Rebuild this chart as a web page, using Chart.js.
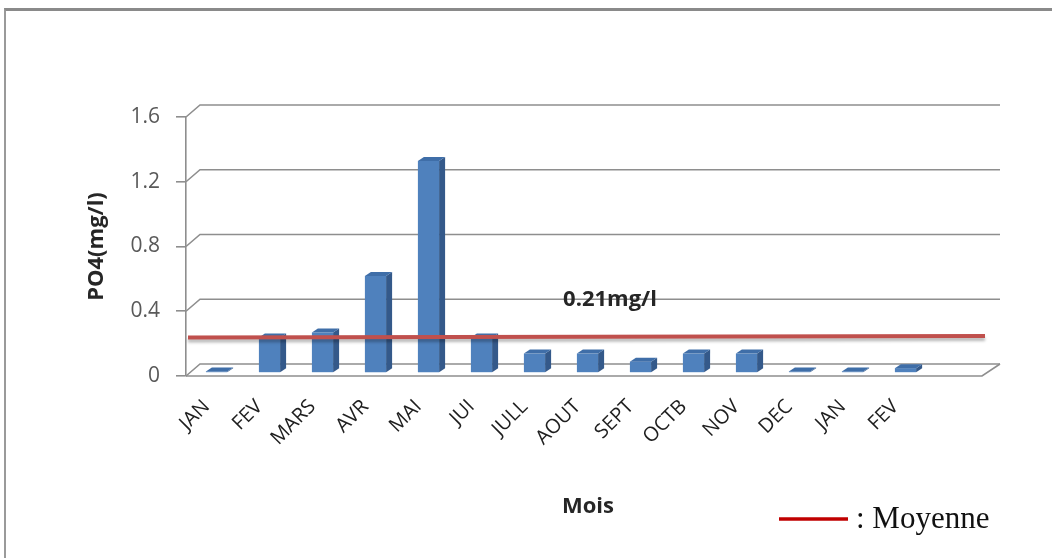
<!DOCTYPE html>
<html>
<head>
<meta charset="utf-8">
<script src="https://cdn.jsdelivr.net/npm/chart.js@4.4.1/dist/chart.umd.min.js"></script>
<style>
  html, body { margin: 0; padding: 0; background: #fff; overflow: hidden; }
  #wrap { position: relative; width: 1052px; height: 558px; }
  #frame { position: absolute; left: 4px; top: 8px; width: 1100px; height: 600px;
           border-top: 3px solid #8a8a8a; border-left: 2px solid #9a9a9a; }
  canvas { position: absolute; left: 0; top: 0; }
</style>
</head>
<body>
<div id="wrap">
  <div id="frame"></div>
  <canvas id="chart" width="1052" height="558"></canvas>
</div>
<script>
// PO4 monthly values (mg/l)
const months = ["JAN","FEV","MARS","AVR","MAI","JUI","JULL","AOUT","SEPT","OCTB","NOV","DEC","JAN","FEV"];
const po4 = [0.01, 0.22, 0.25, 0.60, 1.31, 0.22, 0.12, 0.12, 0.07, 0.12, 0.12, 0.01, 0.01, 0.03];
const yTicks = [0, 0.4, 0.8, 1.2, 1.6];
const moyenne = 0.22;
const moyenneText = "0.21mg/l";

const FONT = "'Open Sans', Lato, sans-serif";
const GRID = "#8e8e8e";
// 3d look: wall depth and bar depth
const WALL = { dx: 14, dy: 12 };
const BAR = { dx: 6, dy: 4 };
const SHIFT = { x: 4, y: -3 };   // bars sit in the middle of the floor

const walls3d = {
  id: "walls3d",
  beforeDatasetsDraw(chart) {
    const { ctx, chartArea: a, scales: { y } } = chart;
    const wallRight = a.right + 72;
    ctx.save();
    ctx.strokeStyle = GRID;
    ctx.lineWidth = 1.6;
    yTicks.forEach(v => {
      const py = y.getPixelForValue(v);
      ctx.beginPath();
      ctx.moveTo(a.left, py);
      ctx.lineTo(a.left + WALL.dx, py - WALL.dy);
      ctx.lineTo(wallRight, py - WALL.dy);
      ctx.stroke();
    });
    // floor front edge
    const p0 = y.getPixelForValue(0);
    ctx.beginPath();
    ctx.moveTo(a.left, p0);
    ctx.lineTo(wallRight - WALL.dx - 4, p0);
    ctx.lineTo(wallRight, p0 - WALL.dy);
    ctx.stroke();
    ctx.restore();
    ctx.save();
    ctx.translate(SHIFT.x, SHIFT.y);
  },
  afterDatasetsDraw(chart) {
    const { ctx, chartArea: a, scales: { x, y } } = chart;
    const meta = chart.getDatasetMeta(0);
    meta.data.forEach(bar => {
      const { x: cx, y: top, base, width } = bar.getProps(["x", "y", "base", "width"], true);
      const l = cx - width / 2, r = cx + width / 2;
      // side face
      ctx.fillStyle = "#34598a";
      ctx.beginPath();
      ctx.moveTo(r, top);
      ctx.lineTo(r + BAR.dx, top - BAR.dy);
      ctx.lineTo(r + BAR.dx, base - BAR.dy);
      ctx.lineTo(r, base);
      ctx.closePath();
      ctx.fill();
      // top face
      ctx.fillStyle = "#3f6ea8";
      ctx.beginPath();
      ctx.moveTo(l, top);
      ctx.lineTo(l + BAR.dx, top - BAR.dy);
      ctx.lineTo(r + BAR.dx, top - BAR.dy);
      ctx.lineTo(r, top);
      ctx.closePath();
      ctx.fill();
    });
    ctx.restore();

    // mean line
    const py = y.getPixelForValue(moyenne) + SHIFT.y;
    ctx.save();
    ctx.strokeStyle = "#c0504d";
    ctx.lineWidth = 4;
    ctx.shadowColor = "rgba(0,0,0,0.28)";
    ctx.shadowOffsetY = 3;
    ctx.shadowBlur = 3;
    ctx.beginPath();
    ctx.moveTo(a.left + 2, py);
    ctx.lineTo(a.right + 57, py - 1.5);
    ctx.stroke();
    ctx.restore();

    // mean label
    const lx = (x.getPixelForValue(7) + x.getPixelForValue(8)) / 2;
    ctx.save();
    ctx.fillStyle = "#262626";
    ctx.font = "bold 22px " + FONT;
    ctx.textAlign = "center";
    ctx.textBaseline = "middle";
    ctx.fillText(moyenneText, lx, py - 38);
    ctx.restore();
  },
  afterDraw(chart) {
    const { ctx, chartArea: a } = chart;
    // x axis title
    ctx.save();
    ctx.fillStyle = "#262626";
    ctx.font = "bold 22px " + FONT;
    ctx.textAlign = "center";
    ctx.textBaseline = "middle";
    ctx.fillText("Mois", a.left + 402, 507);
    ctx.restore();
    // legend for the mean line
    ctx.save();
    ctx.strokeStyle = "#c00000";
    ctx.lineWidth = 3.5;
    ctx.beginPath();
    ctx.moveTo(779, 519);
    ctx.lineTo(848, 519);
    ctx.stroke();
    ctx.fillStyle = "#111";
    ctx.font = "31px 'Liberation Serif', 'DejaVu Serif', serif";
    ctx.textBaseline = "alphabetic";
    ctx.fillText(": Moyenne", 856, 528);
    ctx.restore();
  }
};

new Chart(document.getElementById("chart"), {
  type: "bar",
  data: {
    labels: months,
    datasets: [{
      data: po4,
      backgroundColor: "#4f81bd",
      borderWidth: 0,
      categoryPercentage: 1,
      barPercentage: 0.4
    }]
  },
  options: {
    responsive: false,
    animation: false,
    events: [],
    layout: { padding: { left: 80, top: 117, right: 124, bottom: 38 } },
    plugins: { legend: { display: false }, tooltip: { enabled: false } },
    scales: {
      x: {
        offset: true,
        grid: { display: false },
        border: { display: false },
        ticks: { color: "#1e1e1e", font: { family: FONT, size: 20 }, minRotation: 45, maxRotation: 45,
                 padding: 11, labelOffset: -6 },
        afterFit(s) { s.height = 144; }
      },
      y: {
        min: 0,
        max: 1.6,
        afterBuildTicks(s) { s.ticks = yTicks.map(v => ({ value: v })); },
        grid: { drawOnChartArea: false, tickLength: 10, color: GRID, lineWidth: 1.6 },
        border: { color: GRID, width: 1.6 },
        ticks: { color: "#595959", font: { family: FONT, size: 21 }, padding: 16,
                 callback: v => v === 0 ? "0" : v.toFixed(1) },
        title: { display: true, text: "PO4(mg/l)", color: "#262626", font: { family: FONT, size: 22, weight: "bold" } },
        afterFit(s) { s.width = 106; }
      }
    }
  },
  plugins: [walls3d]
});
</script>
</body>
</html>
